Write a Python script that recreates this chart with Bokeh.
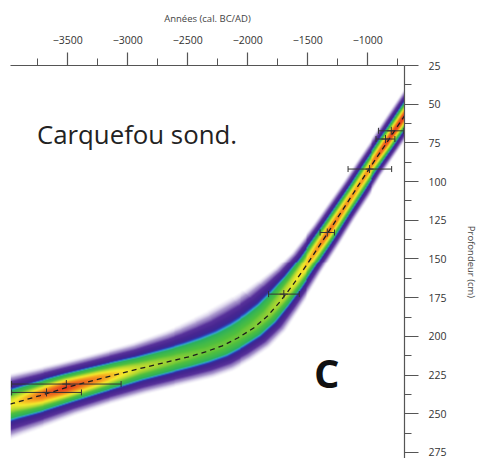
import numpy as np
from bokeh.plotting import figure
from bokeh.models import Range1d, FixedTicker, ColumnDataSource, Label
from bokeh.embed import file_html
from bokeh.resources import INLINE

# ---- data ----
# mean age-depth model (years cal. BC/AD, depth cm)
curve_year = [-4050, -3951, -3728, -3508, -3234, -2904, -2632, -2492, -2352, -2212,
              -2080, -1948, -1833, -1725, -1618, -1503, -1338, -1214, -1091, -984,
              -843, -695, -596]
curve_depth = [245.5, 243.2, 238.2, 233.0, 227.4, 220.9, 215.8, 213.2, 210.0, 206.1,
               200.9, 194.4, 186.7, 177.0, 166.0, 153.1, 133.7, 118.8, 104.0, 91.1,
               74.9, 57.5, 45.9]
# spread of the probability band on each side of the curve and its peak density
band_up = [32, 31, 29, 27, 27, 28, 32, 35, 38, 40, 41, 40, 37, 32, 26, 21, 18, 17,
           16, 16, 16, 16, 16]
band_low = [36, 35, 33, 31, 29, 28, 28, 28, 29, 29, 28, 27, 25, 22, 20, 18, 17, 16,
            16, 15, 15, 15, 15]
band_peak = [0.72, 0.74, 0.9, 0.97, 0.86, 0.68, 0.62, 0.6, 0.58, 0.58, 0.58, 0.6,
             0.62, 0.66, 0.72, 0.8, 0.9, 0.86, 0.84, 0.86, 0.95, 0.97, 0.97]

# dated samples (calibrated ranges)
date_depth = [67.2, 72.5, 91.9, 132.9, 172.7, 230.8, 236.2]
date_lo = [-912, -932, -1165, -1398, -1827, -3967, -3967]
date_hi = [-700, -775, -802, -1278, -1571, -3055, -3385]
date_mid = [-805, -853, -986, -1338, -1700, -3511, -3676]

x_ticks = [-3500, -3000, -2500, -2000, -1500, -1000]
x_minor = [-3750, -3250, -2750, -2250, -1750, -1250, -750]
y_ticks = [25, 50, 75, 100, 125, 150, 175, 200, 225, 250, 275]
y_minor = [37.5, 62.5, 87.5, 112.5, 137.5, 162.5, 187.5, 212.5, 237.5, 262.5]

X0, X1 = -3976, -695
D0, D1 = 25, 278.9

FONT = "Open Sans"

p = figure(width=480, height=458, x_range=Range1d(X0, X1), y_range=Range1d(D1, D0),
           x_axis_location="above", y_axis_location="right",
           output_backend="svg", toolbar_location=None,
           min_border_left=10, min_border_right=72, min_border_top=65, min_border_bottom=0)
p.outline_line_color = None
p.xgrid.visible = False
p.ygrid.visible = False
p.background_fill_color = "white"
p.border_fill_color = "white"

# ---- probability band rendered as an RGBA image ----
nx, ny = 400, 394
sx = 398 / (X1 - X0)   # px per year
sy = 393 / (D1 - D0)   # px per cm
gx = X0 + (np.arange(nx) + 0.5) * (X1 - X0) / nx
gd = D0 + (np.arange(ny) + 0.5) * (D1 - D0) / ny
GX, GD = np.meshgrid(gx, gd)
PX = (GX - X0) * sx
PY = -(GD - D0) * sy
cx = (np.array(curve_year) - X0) * sx
cy = -(np.array(curve_depth) - D0) * sy
best = np.full(PX.shape, np.inf)
spar = np.zeros(PX.shape)
side = np.zeros(PX.shape)
for i in range(len(cx) - 1):
    ax, ay = cx[i], cy[i]
    bx, by = cx[i + 1], cy[i + 1]
    abx, aby = bx - ax, by - ay
    L2 = abx * abx + aby * aby
    t = np.clip(((PX - ax) * abx + (PY - ay) * aby) / L2, 0, 1)
    qx = ax + t * abx
    qy = ay + t * aby
    d2 = (PX - qx) ** 2 + (PY - qy) ** 2
    cr = abx * (PY - ay) - aby * (PX - ax)
    m = d2 < best
    best[m] = d2[m]
    spar[m] = (i + t)[m]
    side[m] = cr[m]
idx = np.arange(len(cx))
wu = np.interp(spar, idx, band_up)
wl = np.interp(spar, idx, band_low)
pk = np.interp(spar, idx, band_peak)
w = np.where(side > 0, wu, wl)
sig = w / np.sqrt(2 * np.log(pk / 0.015))
v = pk * np.exp(-best / (2 * sig ** 2))

stops = [0.00, 0.02, 0.06, 0.12, 0.20, 0.29, 0.33, 0.36, 0.40, 0.55, 0.65, 0.74, 0.85, 1.00]
cols = [(160, 140, 205, 0), (150, 130, 200, 0), (112, 82, 172, 150), (88, 50, 155, 255),
        (72, 38, 145, 255), (58, 40, 150, 255), (38, 80, 195, 255), (55, 170, 215, 255),
        (42, 176, 95, 255), (80, 192, 62, 255), (175, 215, 50, 255), (245, 235, 45, 255),
        (245, 150, 30, 255), (225, 35, 30, 255)]
cols = np.array(cols, dtype=float)
img = np.empty((ny, nx), dtype=np.uint32)
view = img.view(dtype=np.uint8).reshape((ny, nx, 4))
for k in range(4):
    view[:, :, k] = np.interp(v, stops, cols[:, k]).astype(np.uint8)

p.image_rgba(image=[img], x=X0, y=D0, dw=X1 - X0, dh=D1 - D0)

# mean curve
p.line(curve_year, curve_depth, line_color="#1c1c1c", line_width=1.3, line_dash="5 4")

# error bars of the dates
src = ColumnDataSource(dict(depth=date_depth, lo=date_lo, hi=date_hi, mid=date_mid))
p.segment(x0="lo", y0="depth", x1="hi", y1="depth", source=src,
          line_color="#333333", line_width=1)
p.scatter(x="lo", y="depth", source=src, marker="dash", angle=np.pi / 2, size=6,
          line_color="#333333", line_width=1)
p.scatter(x="hi", y="depth", source=src, marker="dash", angle=np.pi / 2, size=6,
          line_color="#333333", line_width=1)
p.scatter(x="mid", y="depth", source=src, marker="cross", size=8,
          line_color="#333333", line_width=1)

# texts
p.add_layout(Label(x=-3756, y=69.1, text="Carquefou sond.", text_font=FONT,
                   text_font_size="25.8px", text_color="#222222",
                   text_baseline="alphabetic", text_align="left"))
p.add_layout(Label(x=-1448, y=223.4, text="C", text_font=FONT, text_font_style="bold",
                   text_font_size="40px", text_color="#111111",
                   text_baseline="alphabetic", text_align="left"))

# axes
xa = p.xaxis[0]
xa.ticker = FixedTicker(ticks=x_ticks, minor_ticks=x_minor)
xa.axis_label = "Années (cal. BC/AD)"
ya = p.yaxis[0]
ya.ticker = FixedTicker(ticks=y_ticks, minor_ticks=y_minor)
ya.axis_label = "Profondeur (cm)"
for ax in (xa, ya):
    ax.axis_line_color = "#555555"
    ax.axis_line_width = 1.2
    ax.major_tick_line_color = "#555555"
    ax.minor_tick_line_color = "#555555"
    ax.major_tick_line_width = 1.2
    ax.minor_tick_line_width = 1
    ax.major_tick_in = 0
    ax.minor_tick_in = 0
    ax.major_tick_out = 13
    ax.minor_tick_out = 7
    ax.major_label_text_font = FONT
    ax.major_label_text_font_size = "10.5px"
    ax.major_label_text_color = "#333333"
    ax.major_label_standoff = 7
    ax.axis_label_text_font = FONT
    ax.axis_label_text_font_size = "9.5px"
    ax.axis_label_text_font_style = "normal"
    ax.axis_label_text_color = "#444444"
ya.major_tick_out = 14
xa.major_label_standoff = 9
xa.axis_label_standoff = 8
ya.major_label_standoff = 10
ya.axis_label_standoff = 15

open("out.html", "w").write(file_html(p, INLINE))
